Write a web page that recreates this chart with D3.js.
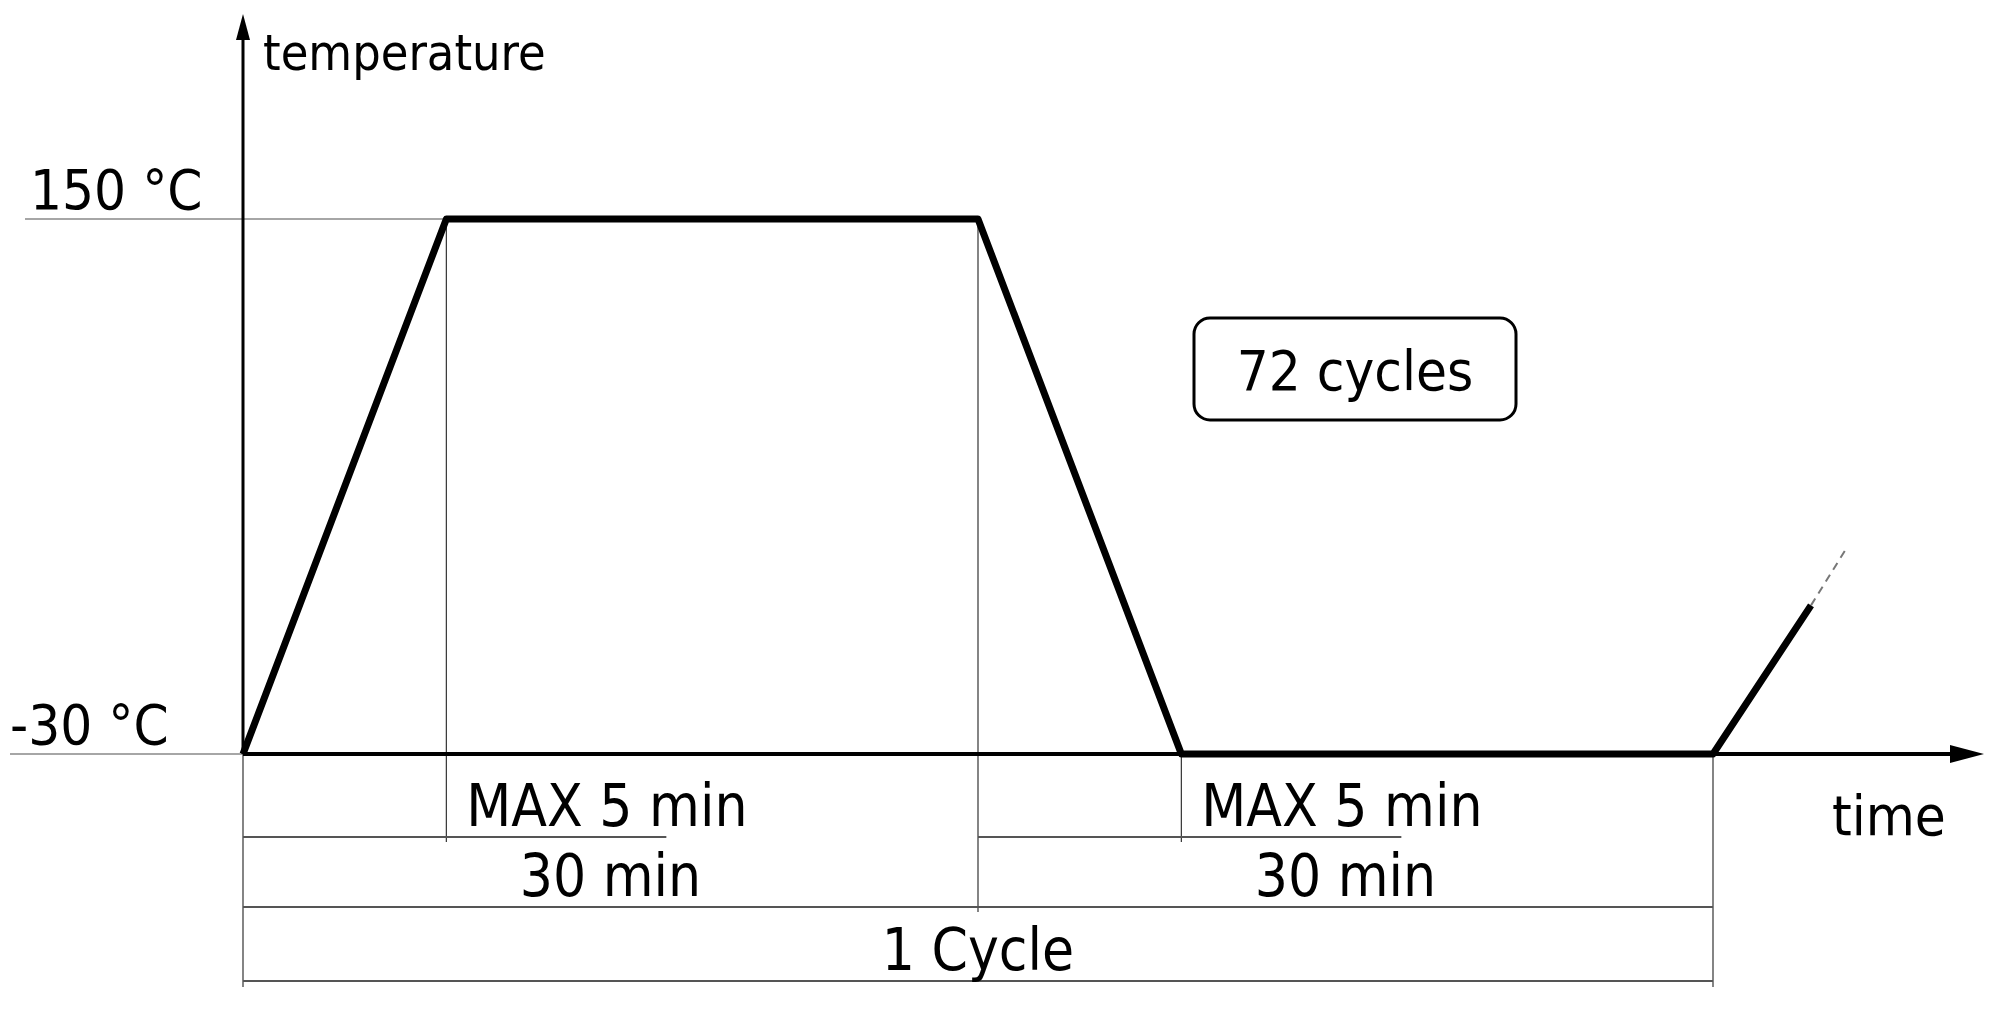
<!DOCTYPE html>
<html><head><meta charset="utf-8">
<script src="https://cdn.jsdelivr.net/npm/d3@7"></script>
<style>body{margin:0;background:#fff}text{font-family:"DejaVu Sans Condensed","DejaVu Sans",sans-serif;fill:#000}</style>
</head><body>
<svg id="chart" width="1998" height="1015"></svg>
<script>
// profile (minutes, °C), schematic
const profileTime=[0,8.3,30,38.3,60,64];
const profileTemp=[-30,150,150,-30,-30,20];
const dashTime=[64,65.4];
const dashTemp=[20,38.6];
const tempLabels=[{v:150,t:"150 °C"},{v:-30,t:"-30 °C"}];
// dimension rows: [from, to, label]
const dimMax=[[0,8.3,"MAX 5 min"],[30,38.3,"MAX 5 min"]];
const dimHalf=[[0,30,"30 min"],[30,60,"30 min"]];
const dimCycle=[[0,60,"1 Cycle"]];

const svg=d3.select('#chart');
const x=d3.scaleLinear().domain([0,60]).range([243,1713]);
const y=d3.scaleLinear().domain([-30,150]).range([754,219]);
const line=d3.line().x(d=>x(d[0])).y(d=>y(d[1]));

//参考线
svg.append('line').attr('x1',25).attr('x2',x(8.3)).attr('y1',y(150)).attr('y2',y(150)).attr('stroke','#888').attr('stroke-width',1.5);
svg.append('line').attr('x1',10).attr('x2',x(0)).attr('y1',y(-30)).attr('y2',y(-30)).attr('stroke','#888').attr('stroke-width',1.5);
//竖线
const yMax=837,yHalf=907,yCyc=981;
[[8.3,150,yMax+5],[30,150,yHalf+5],[38.3,-30,yMax+5],[60,-30,yCyc+6],[0,-30,yCyc+6]].forEach(d=>{
  svg.append('line').attr('x1',x(d[0])).attr('x2',x(d[0])).attr('y1',y(d[1])).attr('y2',d[2]).attr('stroke','#333').attr('stroke-width',1.2);
});
//尺寸线
function dims(rows,yy,ext,size){
  rows.forEach(r=>{
    svg.append('line').attr('x1',x(r[0])).attr('x2',ext?x(r[0])+ext:x(r[1])).attr('y1',yy).attr('y2',yy).attr('stroke','#555').attr('stroke-width',2);
    const cx=ext?x(r[1])+20:(x(r[0])+x(r[1]))/2;
    svg.append('text').attr('x',cx).attr('y',yy-11).attr('text-anchor',ext?'start':'middle').attr('font-size',size).text(r[2]);
  });
}
dims(dimMax,yMax,x(8.3)-x(0)+220,58);
dims(dimHalf,yHalf,0,58);
dims(dimCycle,yCyc,0,58);

//坐标轴
svg.append('line').attr('x1',x(0)).attr('x2',x(0)).attr('y1',y(-30)).attr('y2',34).attr('stroke','#000').attr('stroke-width',3);
svg.append('path').attr('d',`M${x(0)-7},40 L${x(0)},14 L${x(0)+7},40 Z`);
svg.append('line').attr('x1',x(0)).attr('x2',1960).attr('y1',y(-30)).attr('y2',y(-30)).attr('stroke','#000').attr('stroke-width',4);
svg.append('path').attr('d',`M1950,${y(-30)-9} L1984,${y(-30)} L1950,${y(-30)+9} Z`);

//曲线
svg.append('path').attr('d',line(profileTime.map((t,i)=>[t,profileTemp[i]]))).attr('fill','none').attr('stroke','#000').attr('stroke-width',7).attr('stroke-linejoin','round');
svg.append('path').attr('d',line(dashTime.map((t,i)=>[t,dashTemp[i]]))).attr('fill','none').attr('stroke','#777').attr('stroke-width',2).attr('stroke-dasharray','8,6');

//文字
svg.append('text').attr('x',263).attr('y',70).attr('font-size',50).text('temperature');
svg.append('text').attr('x',1832).attr('y',835).attr('font-size',56).text('time');
tempLabels.forEach(d=>{
  svg.append('text').attr('x',d.v>0?30:10).attr('y',y(d.v)-10).attr('font-size',56).text(d.t);
});
svg.append('rect').attr('x',1194).attr('y',318).attr('width',322).attr('height',102).attr('rx',16).attr('fill','none').attr('stroke','#000').attr('stroke-width',3);
svg.append('text').attr('x',1355).attr('y',390).attr('text-anchor','middle').attr('font-size',56).text('72 cycles');
</script>
</body></html>
